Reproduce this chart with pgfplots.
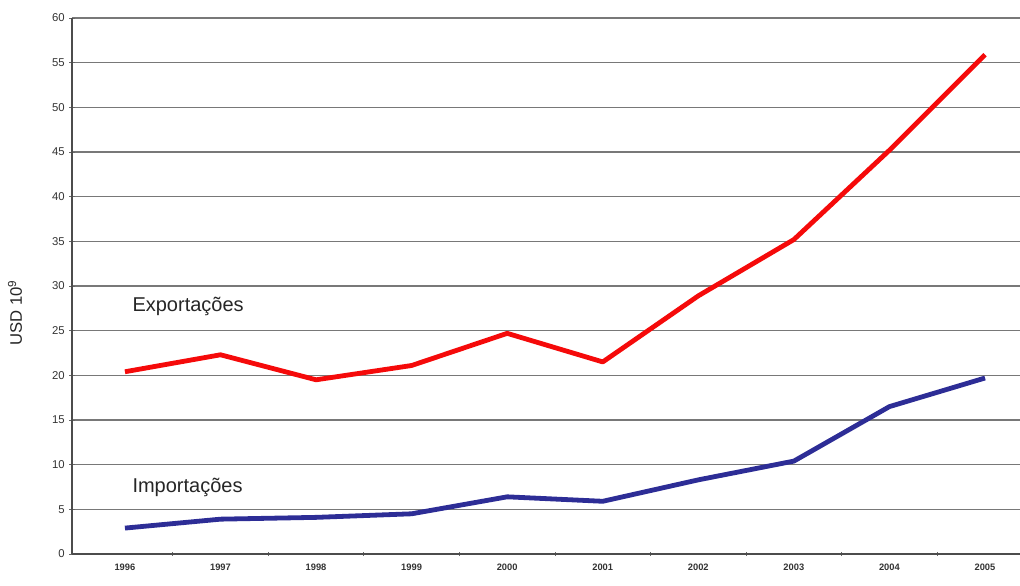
\documentclass[border=0pt]{standalone}
\usepackage{fontspec}
\setmainfont{Liberation Sans}
\usepackage{pgfplots}
\pgfplotsset{compat=1.18}

\definecolor{expred}{RGB}{245,10,10}
\definecolor{impblue}{RGB}{45,45,150}
\definecolor{gridgray}{RGB}{120,120,120}

% 1px of the reference = 0.75pt
\begin{document}
\begin{tikzpicture}[x=1pt,y=1pt]
\useasboundingbox (-54,-23.25) rectangle (711,415.5);
\begin{axis}[
  scale only axis,
  width=711pt, height=402pt,
  xmin=1995.446, xmax=2005.366,
  ymin=0, ymax=60,
  axis x line=bottom, axis y line=left,
  axis line style={-, draw=black!70, line width=1pt},
  xtick={1996,...,2005},
  minor xtick={1996.5,1997.5,...,2004.5},
  major x tick style={draw=none},
  minor x tick style={draw=black!60, line width=0.6pt},
  minor tick length=2.5pt,
  x tick label style={font=\fontsize{7}{8}\selectfont\bfseries, text=black!80, yshift=-2pt},
  xticklabel={\pgfmathprintnumber[1000 sep={}]{\tick}},
  ytick={0,5,...,60},
  y tick style={draw=black!60, line width=0.6pt},
  major tick length=4pt,
  y tick label style={font=\fontsize{8.5}{10}\selectfont, text=black!80},
  /pgf/number format/assume math mode=true,
  ymajorgrids,
  grid style={draw=gridgray, line width=1.1pt},
  clip=false,
]
\addplot[expred, line width=3.6pt, line join=round] coordinates {
  (1996,20.4) (1997,22.3) (1998,19.5) (1999,21.1) (2000,24.7)
  (2001,21.5) (2002,28.9) (2003,35.2) (2004,45.2) (2005,55.9)
};
\addplot[impblue, line width=3.6pt, line join=round] coordinates {
  (1996,2.9) (1997,3.9) (1998,4.1) (1999,4.5) (2000,6.4)
  (2001,5.9) (2002,8.3) (2003,10.4) (2004,16.5) (2005,19.7)
};
\node[anchor=west, font=\fontsize{15}{17}\selectfont, text=black!85] at (axis cs:1996.03,27.7) {Exportações};
\node[anchor=west, font=\fontsize{15}{17}\selectfont, text=black!85] at (axis cs:1996.03,7.4) {Importações};
\node[rotate=90, anchor=center, font=\fontsize{12.5}{14}\selectfont, text=black!85]
  at ([xshift=-42.75pt]axis cs:1995.446,27.0) {USD 10\textsuperscript{9}};
\end{axis}
\end{tikzpicture}
\end{document}
